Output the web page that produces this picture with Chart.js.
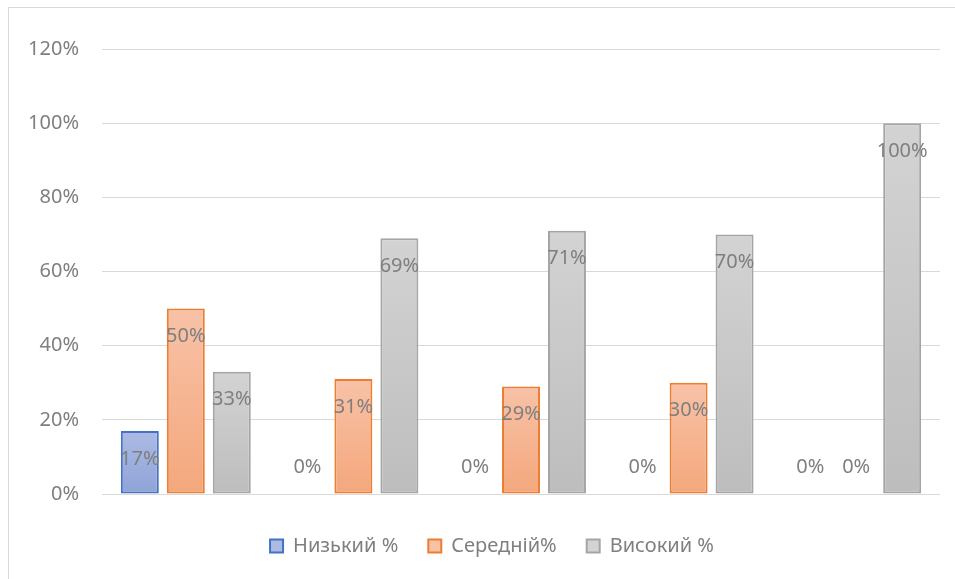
<!DOCTYPE html>
<html lang="uk">
<head>
<meta charset="utf-8">
<script src="https://cdn.jsdelivr.net/npm/chart.js@4/dist/chart.umd.min.js"></script>
<style>
  html, body { margin: 0; padding: 0; background: #fff; }
  #wrap { position: relative; width: 955px; height: 579px; }
  #frame {
    position: absolute; left: 8px; top: 7px; right: 0; bottom: 0;
    border-top: 1px solid #d9d9d9; border-left: 1px solid #d9d9d9;
    pointer-events: none;
  }
  canvas { position: absolute; left: 0; top: 0; }
</style>
</head>
<body>
<div id="wrap">
  <canvas id="chart" width="955" height="579"></canvas>
  <div id="frame"></div>
</div>
<script>
// Five groups, no category captions on the axis
const categories = ["1", "2", "3", "4", "5"]
const seriesNames = ["Низький %", "Середній%", "Високий %"]
const lowValues = [17, 0, 0, 0, 0]
const midValues = [50, 31, 29, 30, 0]
const highValues = [33, 69, 71, 70, 100]
const yTicks = [0, 20, 40, 60, 80, 100, 120]

const TEXT_COLOR = "#7f7f7f"
const GRID_COLOR = "#d9d9d9"
const FONT = "'Noto Sans', sans-serif"
const FONT_SIZE = 20
const LEGEND_SHIFT = 22

// [top colour, bottom colour, border]
const STYLES = [
  ["#acbbe4", "#8ea3d7", "#4472c4"],
  ["#f8c2a7", "#f4a77c", "#ed7d31"],
  ["#d3d3d3", "#bdbdbd", "#a5a5a5"]
]

// Vertical gradient spanning each bar from its top down to zero
function barFill(style) {
  return (ctx) => {
    const chart = ctx.chart
    const y = chart.scales && chart.scales.y
    if (!y || ctx.type !== "data" || !chart.chartArea) return style[1]
    const v = ctx.parsed ? ctx.parsed.y : ctx.raw
    const top = y.getPixelForValue(v)
    const base = y.getPixelForValue(0)
    if (base - top < 1) return style[1]
    const g = chart.ctx.createLinearGradient(0, top, 0, base)
    g.addColorStop(0, style[0])
    g.addColorStop(1, style[1])
    return g
  }
}

// Percent labels just inside the top of each bar; zero bars get theirs above the axis
const valueLabels = {
  id: "valueLabels",
  afterDatasetsDraw(chart) {
    const { ctx, scales } = chart
    const base = scales.y.getPixelForValue(0)
    ctx.save()
    ctx.font = FONT_SIZE + "px " + FONT
    ctx.fillStyle = TEXT_COLOR
    ctx.textAlign = "center"
    ctx.textBaseline = "middle"
    chart.data.datasets.forEach((ds, di) => {
      chart.getDatasetMeta(di).data.forEach((bar, i) => {
        const v = ds.data[i]
        const y = v > 0 ? bar.y + 28 : base - 27
        ctx.fillText(v + "%", bar.x, y)
      })
    })
    ctx.restore()
  }
}

// The legend sits a little right of the canvas centre
const legendOffset = {
  id: "legendOffset",
  afterLayout(chart) {
    if (!chart.legend) return
    chart.legend.left += LEGEND_SHIFT
    chart.legend.right += LEGEND_SHIFT
  }
}

const datasetValues = [lowValues, midValues, highValues]

new Chart(document.getElementById("chart").getContext("2d"), {
  type: "bar",
  plugins: [valueLabels, legendOffset],
  data: {
    labels: categories,
    datasets: datasetValues.map((values, i) => ({
      label: seriesNames[i],
      data: values,
      backgroundColor: barFill(STYLES[i]),
      borderColor: STYLES[i][2],
      borderWidth: 2,
      borderSkipped: false,
      categoryPercentage: 0.823,
      barPercentage: 0.826
    }))
  },
  options: {
    responsive: false,
    animation: false,
    layout: { padding: { top: 49, right: 15, left: 0, bottom: 13 } },
    plugins: {
      tooltip: { enabled: false },
      legend: {
        position: "bottom",
        labels: {
          color: TEXT_COLOR,
          font: { family: FONT, size: FONT_SIZE },
          boxWidth: 13,
          boxHeight: 13,
          padding: 30,
          generateLabels: (chart) =>
            chart.data.datasets.map((ds, i) => ({
              text: ds.label,
              fillStyle: STYLES[i][0],
              strokeStyle: STYLES[i][2],
              lineWidth: 2,
              fontColor: TEXT_COLOR,
              datasetIndex: i
            }))
        }
      }
    },
    scales: {
      x: {
        grid: { display: false, drawTicks: false },
        border: { display: false },
        ticks: { display: false },
        afterFit: (scale) => { scale.height = 12 }
      },
      y: {
        min: 0,
        max: 120,
        afterBuildTicks: (axis) => { axis.ticks = yTicks.map((v) => ({ value: v })) },
        afterFit: (scale) => { scale.width = 102 },
        grid: { color: GRID_COLOR, lineWidth: 1, drawTicks: false },
        border: { display: false },
        ticks: {
          color: TEXT_COLOR,
          font: { family: FONT, size: FONT_SIZE },
          padding: 23,
          callback: (v) => v + "%"
        }
      }
    }
  }
})
</script>
</body>
</html>
